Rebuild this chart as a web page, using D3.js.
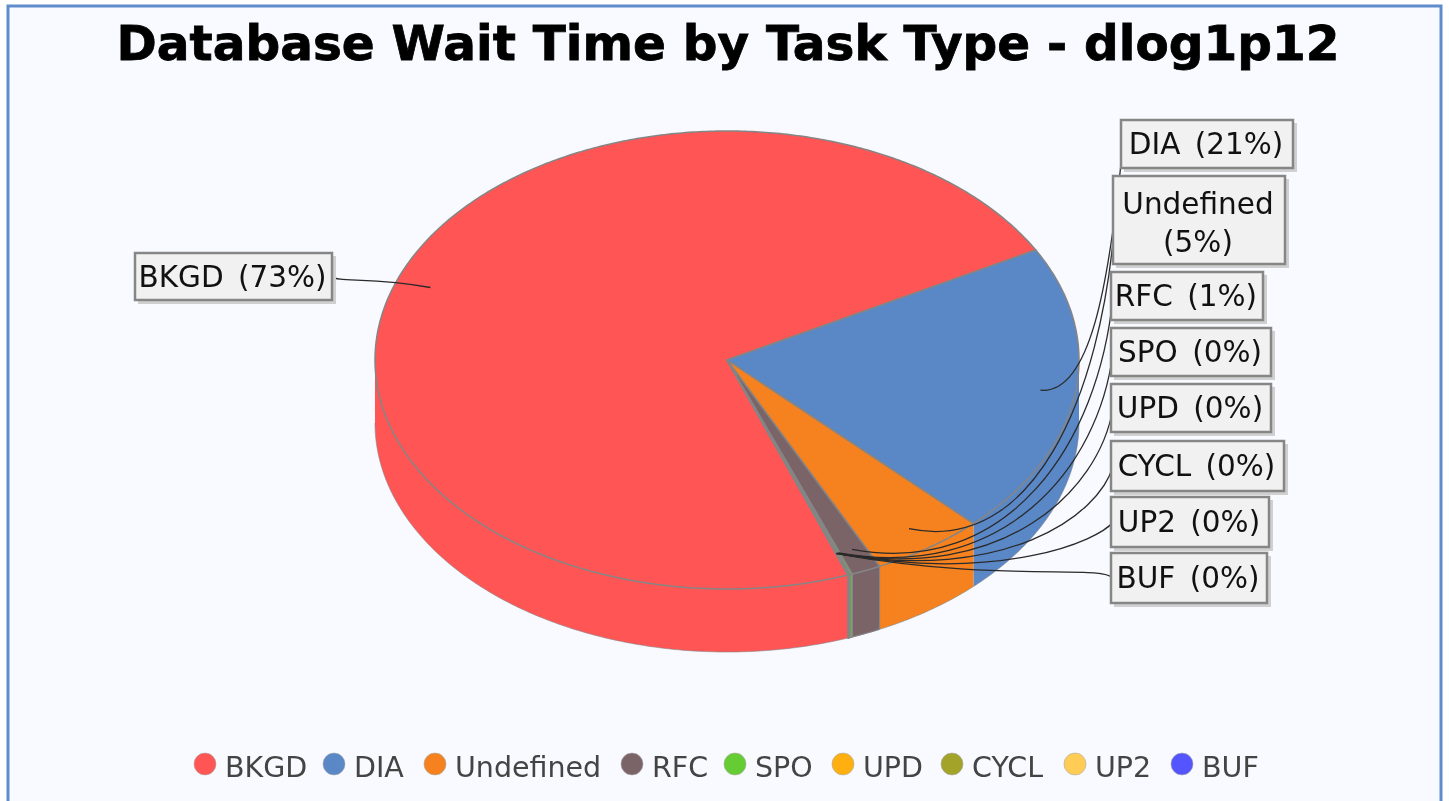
<!DOCTYPE html>
<html><head><meta charset="utf-8">
<script src="https://cdn.jsdelivr.net/npm/d3@7"></script>
<style>html,body{margin:0;padding:0;background:#fff;overflow:hidden}svg{display:block;filter:blur(0.7px)}</style>
</head><body><svg id="c" width="1449" height="801"></svg>
<script>
const chartTitle = "Database Wait Time by Task Type - dlog1p12";
const categories = ["BKGD","DIA","Undefined","RFC","SPO","UPD","CYCL","UP2","BUF"];
const values = [72.5,20.6,5.2,1.35,0.1,0.04,0.03,0.02,0.01];
const colors = ["#FF5555","#5A87C6","#F5821F","#7B6468","#66CC33","#FFB010","#A3A329","#FFCC55","#5555FF"];
// label box layout: left, top, right, bottom
const labelBoxes = [[135,253,332,300],[1121,120,1293,168],[1113,176,1285,264],[1111,272,1263,320],[1111,328,1271,376],[1111,384,1271,432],[1111,441,1284,491],[1111,497,1269,547],[1111,553,1267,603]];

const svg = d3.select("#c");
const W=1449,H=801;
svg.append("rect").attr("width",W).attr("height",H).attr("fill","#fff");
svg.append("rect").attr("x",8).attr("y",6).attr("width",1433).attr("height",H+20)
  .attr("fill","#F8FAFF").attr("stroke","#5F8CCB").attr("stroke-width",3);

svg.append("text").attr("x",728).attr("y",60).attr("text-anchor","middle")
  .attr("font-family","DejaVu Sans").attr("font-weight","bold").attr("font-size",48.5)
  .attr("stroke","#000").attr("stroke-width",0.8).attr("fill","#000").text(chartTitle);

const px=d3.scaleLinear().domain([-1,1]).range([375,1079]);
const py=d3.scaleLinear().domain([-1,1]).range([131,589]);
const depth=63;
const startDeg=159.9;
const pie=d3.pie().sort(null).startAngle(startDeg*Math.PI/180).endAngle((startDeg+360)*Math.PI/180);
const arcs=pie(values);
const total=d3.sum(values);
const pt=(a,r=1,dy=0)=>[px(r*Math.sin(a)),py(-r*Math.cos(a))+dy];
const line=d3.line();
const samples=(a,b)=>{const n=Math.max(2,Math.ceil(Math.abs(b-a)/0.01));return d3.range(n+1).map(i=>a+(b-a)*i/n);};
const stroke="#858585";

const g=svg.append("g");
arcs.forEach((d,i)=>{
  for(const k of [0,2]){
    const lo=Math.max(d.startAngle,Math.PI/2+k*Math.PI),hi=Math.min(d.endAngle,Math.PI*1.5+k*Math.PI);
    if(hi<=lo) continue;
    const s=samples(lo,hi);
    const p=s.map(t=>pt(t)).concat(s.slice().reverse().map(t=>pt(t,1,depth)));
    g.append("path").attr("d",line(p)+"Z").attr("fill",colors[i]).attr("stroke",i>=3?stroke:"none").attr("stroke-width",i>=4?1.2:1);
  }
});
{
  const s=samples(Math.PI/2,Math.PI*1.5);
  g.append("path").attr("d",line(s.map(t=>pt(t,1,depth)))).attr("fill","none").attr("stroke",stroke).attr("stroke-width",0.6);
}
arcs.forEach((d,i)=>{
  const s=samples(d.startAngle,d.endAngle);
  const p=[pt(0,0)].concat(s.map(t=>pt(t)));
  g.append("path").attr("d",line(p)+"Z").attr("fill",colors[i]).attr("stroke",stroke).attr("stroke-width",1.5);
});

const leaders=svg.append("g").attr("fill","none").attr("stroke","#2a2a2a").attr("stroke-width",1.3);
arcs.forEach((d,i)=>{
  const m=(d.startAngle+d.endAngle)/2;
  const [ax,ay]=pt(m,0.9);
  const [ex,ey]=pt(m,1.02);
  const b=labelBoxes[i];
  const left=i===0;
  const tx=left?b[2]:b[0]+2, ty=(b[1]+b[3])/2;
  const c1x=ax+(tx-ax)*0.6, c1y=ay+(ey-ay)*1.15;
  const c2x=left?tx+6:tx-14, c2y=ay+(ty-ay)*0.42;
  const p=d3.path();
  p.moveTo(ax,ay);
  p.bezierCurveTo(c1x,c1y,c2x,c2y,tx,ty);
  leaders.append("path").attr("d",p.toString());
});

const lab=svg.append("g").attr("font-family","DejaVu Sans").attr("font-size",29.5).attr("word-spacing",5).attr("fill","#111");
arcs.forEach((d,i)=>{
  const b=labelBoxes[i];
  const pct=d3.format(".0%")(values[i]/total);
  const w=b[2]-b[0],h=b[3]-b[1];
  lab.append("rect").attr("x",b[0]+3).attr("y",b[1]+3).attr("width",w+1).attr("height",h+1).attr("fill","#d0d0d0");
  lab.append("rect").attr("x",b[0]).attr("y",b[1]).attr("width",w).attr("height",h).attr("fill","#F1F1F1").attr("stroke","#868686").attr("stroke-width",2.5);
  const cx=(b[0]+b[2])/2;
  if(categories[i]==="Undefined"){
    lab.append("text").attr("x",cx-1).attr("y",b[1]+38).attr("text-anchor","middle").text(categories[i]);
    lab.append("text").attr("x",cx-1).attr("y",b[1]+76).attr("text-anchor","middle").text("("+pct+")");
  } else {
    lab.append("text").attr("x",cx-1).attr("y",(b[1]+b[3])/2+10).attr("text-anchor","middle").text(categories[i]+" ("+pct+")");
  }
});

const legendX=[205,334,435,632,735,843,952,1075,1182];
const leg=svg.append("g").attr("font-family","DejaVu Sans").attr("font-size",28.5).attr("fill","#444");
categories.forEach((c,i)=>{
  leg.append("circle").attr("cx",legendX[i]).attr("cy",764).attr("r",11).attr("fill",colors[i]).attr("stroke","#aaa").attr("stroke-width",0.6);
  leg.append("text").attr("x",legendX[i]+20).attr("y",777).text(c);
});
</script></body></html>
